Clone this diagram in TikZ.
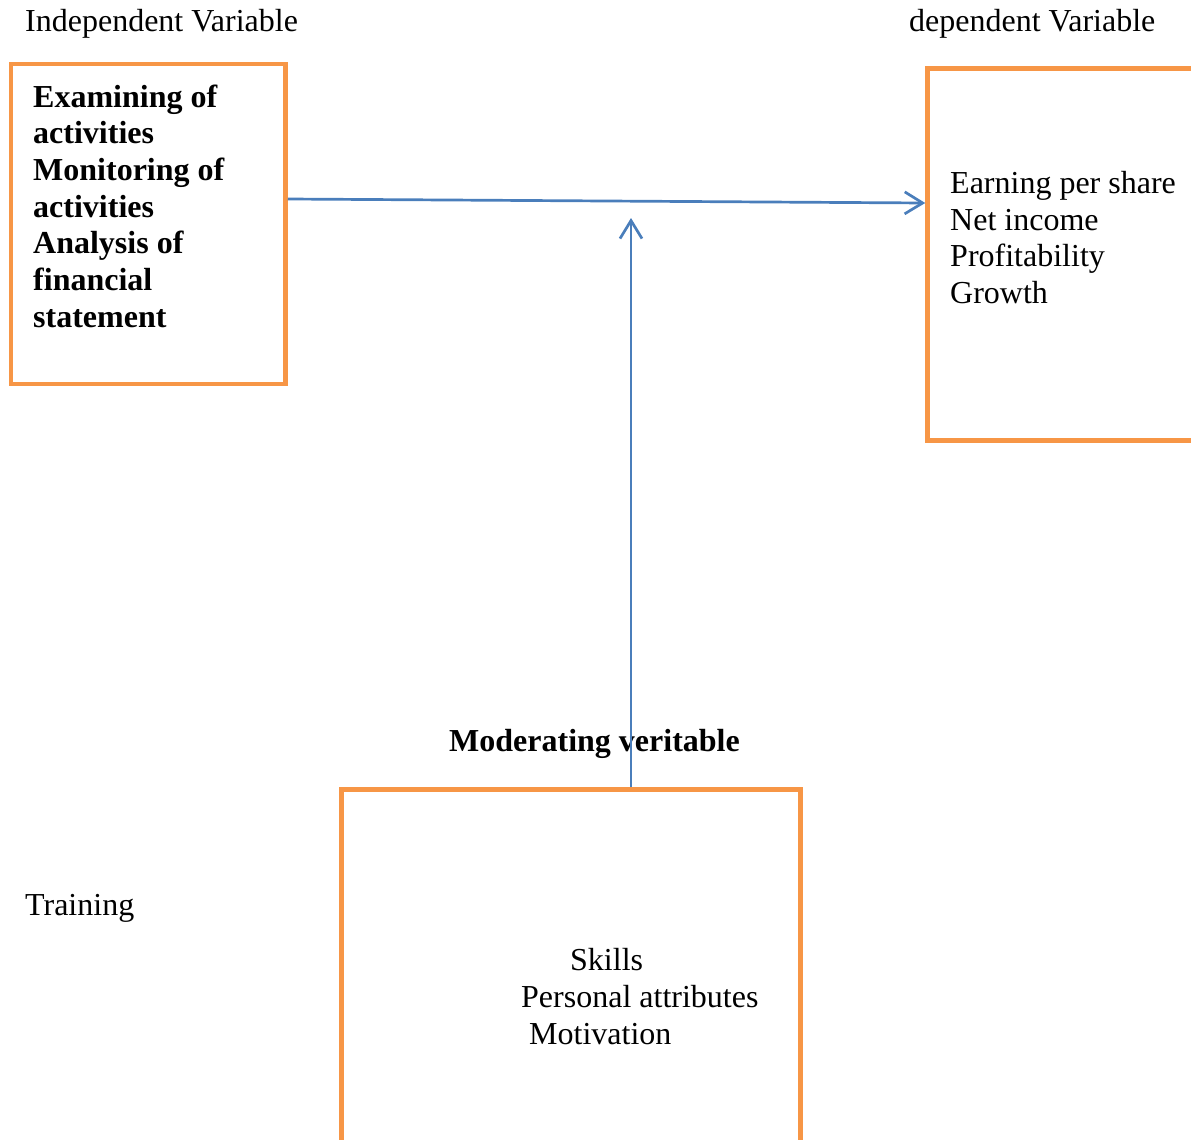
\documentclass[tikz,border=0pt]{standalone}
\usepackage{fontspec}
\setmainfont{Liberation Serif}
\usetikzlibrary{arrows.meta}
\definecolor{boxorange}{HTML}{F79646}
\definecolor{arrowblue}{HTML}{4A7EBB}
\begin{document}
\begin{tikzpicture}[x=1pt,y=-1pt,
  box/.style={draw=boxorange, line width=4.5pt, rectangle, inner sep=0pt},
  lbl/.style={anchor=base west, inner sep=0pt, font=\fontsize{32}{36.7}\selectfont},
  blbl/.style={lbl, font=\fontsize{32}{36.7}\selectfont\bfseries},
  arr/.style={draw=arrowblue, line width=2.7pt, -{Straight Barb[length=18pt,width=22pt,line width=2.7pt]}}]
\useasboundingbox (0,0) rectangle (1191,1140);
\clip (0,0) rectangle (1191,1140);
% boxes
\node[box, minimum width=274.5pt, minimum height=320pt] (lbox) at (148.25,224) {};
\node[box, minimum width=322.5pt, minimum height=372pt] (rbox) at (1088.75,254.5) {};
\node[box, minimum width=459pt, minimum height=410.5pt] (bbox) at (571,994.75) {};
% headings
\node[lbl] (indep) at (25,32) {Independent Variable};
\node[lbl] (dep) at (909,32) {dependent Variable};
\node[lbl] (train) at (25,915) {Training};
\node[blbl] (mod) at (449,751) {Moderating veritable};
% left box text
\node[blbl] (l1) at (33,107) {Examining of};
\node[blbl] (l2) at (33,143.7) {activities};
\node[blbl] (l3) at (33,180.4) {Monitoring of};
\node[blbl] (l4) at (33,217.1) {activities};
\node[blbl] (l5) at (33,253.8) {Analysis of};
\node[blbl] (l6) at (33,290.5) {financial};
\node[blbl] (l7) at (33,327.2) {statement};
% right box text
\node[lbl] (r1) at (950,193) {Earning per share};
\node[lbl] (r2) at (950,230) {Net income};
\node[lbl] (r3) at (950,266.5) {Profitability};
\node[lbl] (r4) at (950,303) {Growth};
% bottom box text
\node[lbl] (b1) at (570,970) {Skills};
\node[lbl] (b2) at (521,1007) {Personal attributes};
\node[lbl] (b3) at (529,1044) {Motivation};
% connectors
\coordinate (top) at (631,218);
\draw[arr] (lbox.east |- 0,199) -- (rbox.west |- 0,203);
\draw[arr] (bbox.north -| 631,0) -- (top);
\end{tikzpicture}
\end{document}
